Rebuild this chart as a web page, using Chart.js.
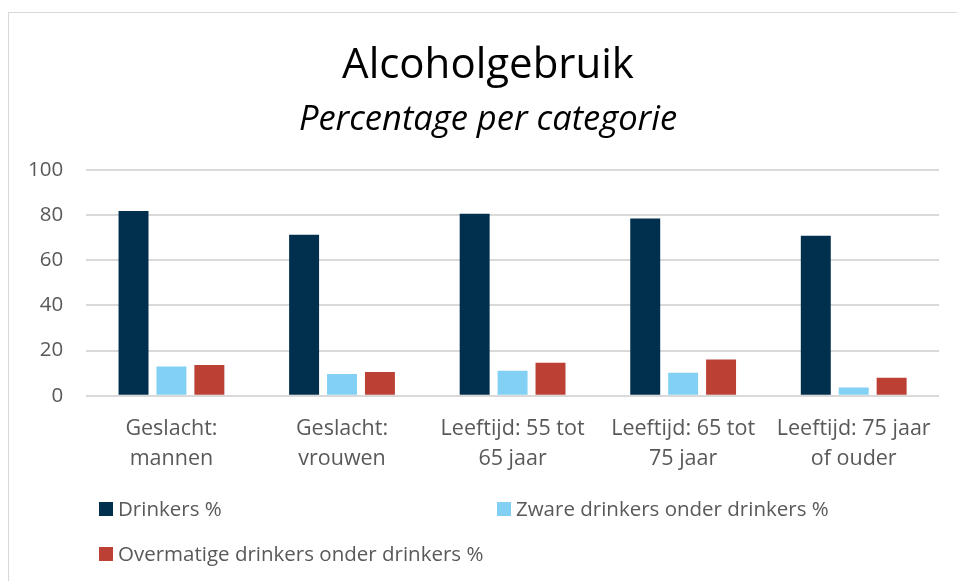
<!DOCTYPE html>
<html>
<head>
<meta charset="utf-8">
<script src="https://cdn.jsdelivr.net/npm/chart.js@4"></script>
<style>
  body { margin: 0; background: #fff; font-family: 'Open Sans', sans-serif; }
  #wrap { position: relative; width: 957px; height: 581px; overflow: hidden; }
  #frame { position: absolute; left: 8px; top: 12px; width: 1000px; height: 700px;
           border-left: 1px solid #d9d9d9; border-top: 1px solid #d9d9d9; }
  canvas { position: absolute; left: 0; top: 0; }
  .leg { position: absolute; font-size: 20.5px; color: #595959; line-height: 20px; white-space: nowrap; }
  .leg span { display: inline-block; width: 14px; height: 14px; margin-right: 5px; vertical-align: 0px; }
</style>
</head>
<body>
<div id="wrap">
  <div id="frame"></div>
  <canvas id="alcoholChart" width="957" height="581"></canvas>
  <div id="legend"></div>
</div>
<script>
var categories = [
  ['Geslacht:', 'mannen'],
  ['Geslacht:', 'vrouwen'],
  ['Leeftijd: 55 tot', '65 jaar'],
  ['Leeftijd: 65 tot', '75 jaar'],
  ['Leeftijd: 75 jaar', 'of ouder']
];
var drinkers = [81.8, 71.3, 80.6, 78.4, 70.8];
var zwareDrinkers = [13.0, 9.7, 11.1, 10.2, 3.7];
var overmatigeDrinkers = [13.6, 10.5, 14.6, 16.1, 8.0];
var yTicks = [0, 20, 40, 60, 80, 100];

var seriesNames = ['Drinkers %', 'Zware drinkers onder drinkers %', 'Overmatige drinkers onder drinkers %'];
var seriesColors = ['#00304e', '#82d0f4', '#bc4134'];

// the titles in the original are centred on the whole (wider) frame, not on the plot
var shiftTitles = {
  id: 'shiftTitles',
  afterLayout: function (chart) {
    chart.boxes.forEach(function (box) {
      if (box.position === 'top' && box.options && box.options.text) {
        box.left += 16;
        box.right += 16;
      }
    });
  }
};

var ctx = document.getElementById('alcoholChart').getContext('2d');
var alcoholChart = new Chart(ctx, {
  type: 'bar',
  data: {
    labels: categories,
    datasets: [{
      label: seriesNames[0],
      data: drinkers,
      backgroundColor: seriesColors[0]
    }, {
      label: seriesNames[1],
      data: zwareDrinkers,
      backgroundColor: seriesColors[1]
    }, {
      label: seriesNames[2],
      data: overmatigeDrinkers,
      backgroundColor: seriesColors[2]
    }]
  },
  plugins: [shiftTitles],
  options: {
    responsive: false,
    animation: false,
    categoryPercentage: 0.667,
    barPercentage: 0.79,
    layout: {
      padding: { left: 5, right: 18, top: 0, bottom: 97 }
    },
    plugins: {
      legend: { display: false },
      tooltip: { enabled: false },
      title: {
        display: true,
        text: 'Alcoholgebruik',
        color: '#000',
        font: { family: 'Open Sans', size: 42, weight: 'normal' },
        padding: { top: 41, bottom: 0 }
      },
      subtitle: {
        display: true,
        text: 'Percentage per categorie',
        color: '#000',
        font: { family: 'Open Sans', size: 34.5, style: 'italic' },
        padding: { top: 8, bottom: 29 }
      }
    },
    scales: {
      x: {
        grid: { display: false },
        border: { display: false },
        ticks: {
          color: '#595959',
          font: { family: 'Open Sans', size: 21.5, lineHeight: 1.4 },
          maxRotation: 0,
          autoSkip: false,
          padding: 10
        }
      },
      y: {
        min: 0,
        max: 100,
        afterBuildTicks: function (axis) {
          axis.ticks = yTicks.map(function (v) { return { value: v }; });
        },
        grid: { color: '#d9d9d9', lineWidth: 2, drawTicks: false },
        border: { display: false },
        ticks: {
          color: '#595959',
          font: { family: 'Open Sans', size: 20.5 },
          padding: 23
        }
      }
    }
  }
});

// legend laid out in two columns like the original
var legendPos = [[99, 498], [497, 498], [99, 543]];
var legendEl = document.getElementById('legend');
alcoholChart.data.datasets.forEach(function (ds, i) {
  var item = document.createElement('div');
  item.className = 'leg';
  item.style.left = legendPos[i][0] + 'px';
  item.style.top = legendPos[i][1] + 'px';
  item.innerHTML = '<span style="background:' + ds.backgroundColor + '"></span>' + ds.label;
  legendEl.appendChild(item);
});
</script>
</body>
</html>
